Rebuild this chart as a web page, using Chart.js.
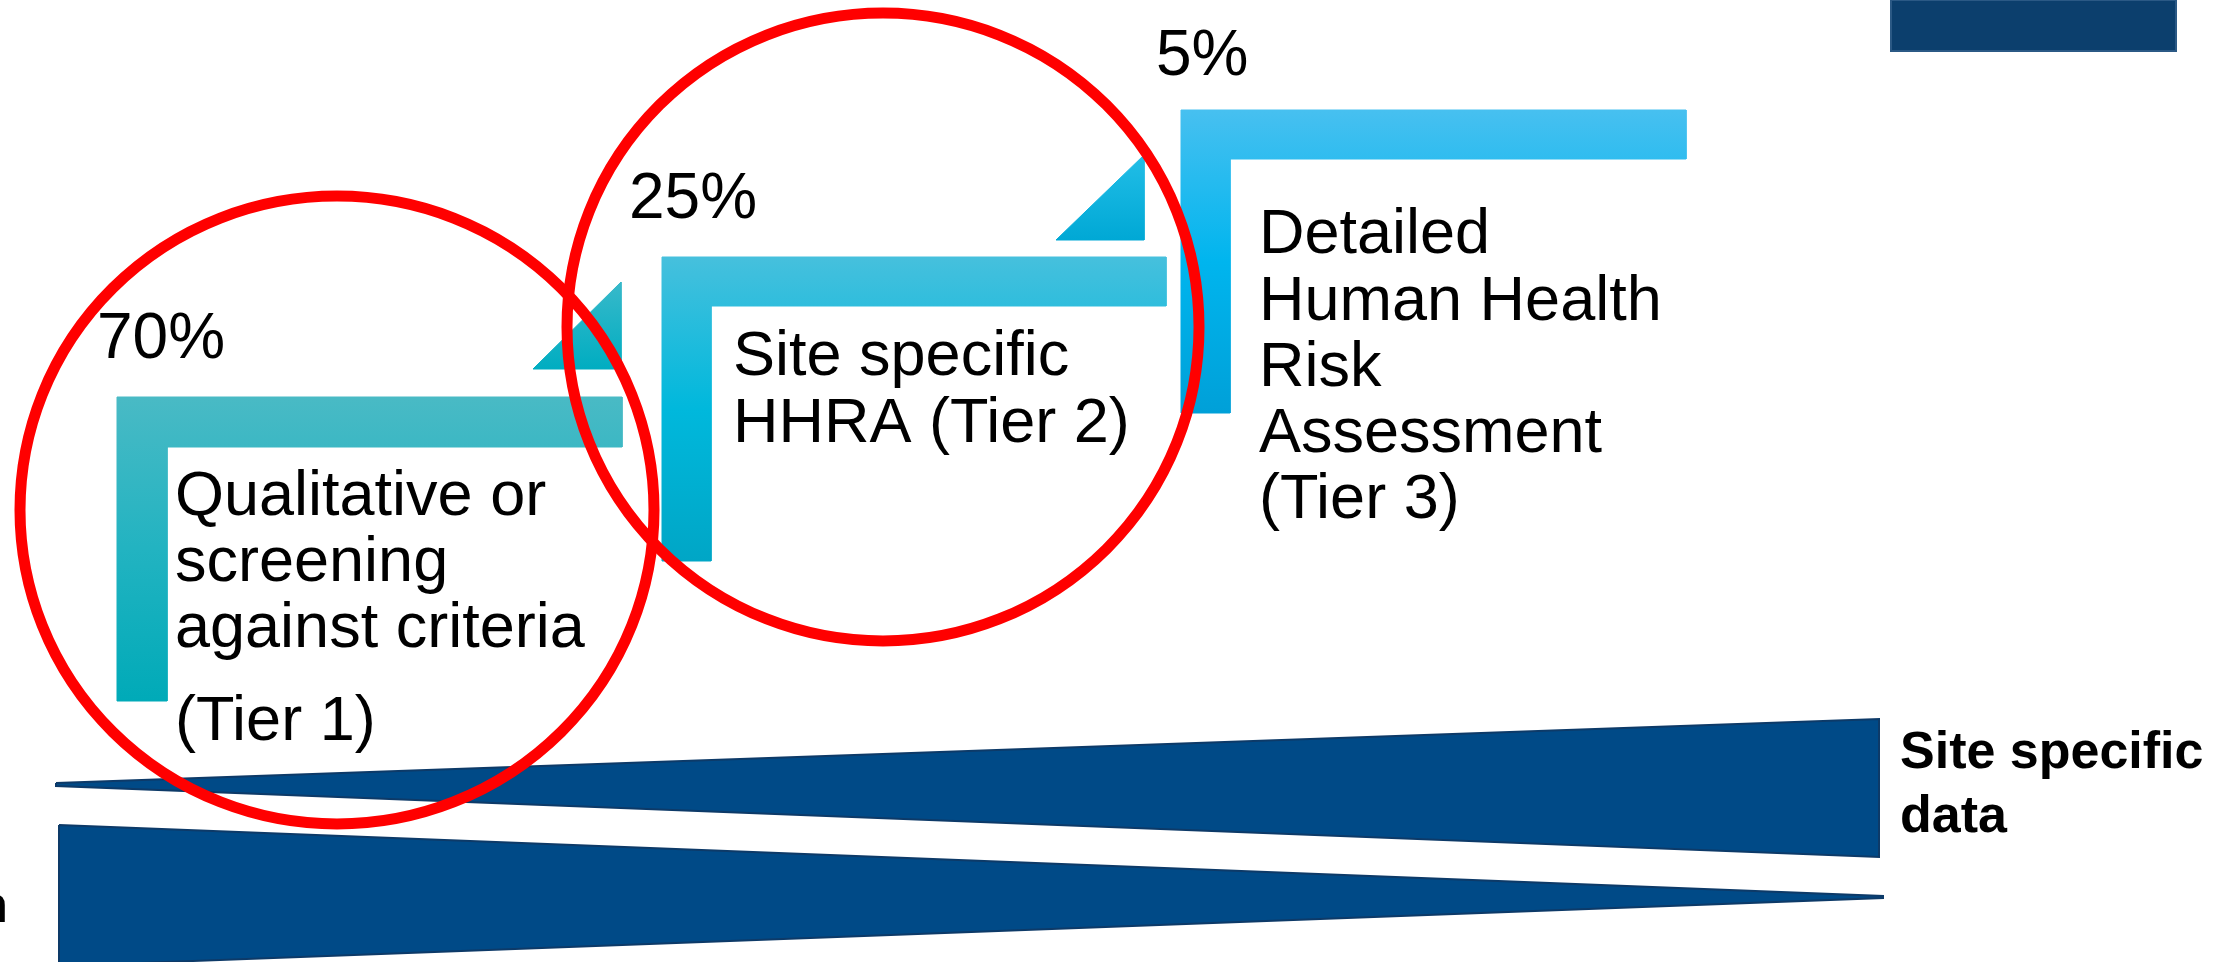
<!DOCTYPE html>
<html>
<head>
<meta charset="utf-8">
<script src="https://cdn.jsdelivr.net/npm/chart.js@4.4.1/dist/chart.umd.min.js"></script>
<style>
  html, body { margin: 0; padding: 0; background: #fff; }
  #wrap { width: 2217px; height: 962px; position: relative; }
</style>
</head>
<body>
<div id="wrap"><canvas id="tiers"></canvas></div>
<script>
// share of assessments that stop at each tier
const tierShare = [70, 25, 5];
const tierText = [
  ['Qualitative or', 'screening', 'against criteria', '(Tier 1)'],
  ['Site specific', 'HHRA (Tier 2)'],
  ['Detailed', 'Human Health', 'Risk', 'Assessment', '(Tier 3)']
];
const rightText = ['Site specific', 'data'];
const leftText = ['n'];

// layout (picture pixels, y down)
const W = 2217, H = 962;
const steps = [
  { l: 117, t: 397, r: 622, hb: 447, i: 167, b: 701, stops: ['#49bac5', '#22b3c1', '#00aab8'] },
  { l: 662, t: 257, r: 1166, hb: 306, i: 711, b: 561, stops: ['#46c0dd', '#00b8dc', '#00a6c6'] },
  { l: 1181, t: 110, r: 1686, hb: 159, i: 1230, b: 413, stops: ['#47c0f0', '#00b5ee', '#00a0d8'] }
];
const ramps = [
  { x0: 533, x1: 621, top: 282, bottom: 369, stops: ['#38b9ca', '#00adc1'] },
  { x0: 1056, x1: 1144, top: 155, bottom: 240, stops: ['#22bee7', '#00a8d5'] }
];
const wedges = [
  [[56, 783], [1879, 719], [1879, 857], [56, 786], [56, 783]],
  [[59, 825], [1883, 896], [1883, 898], [59, 966], [59, 825]]
];
const corner = [[1891, 0], [2176, 0], [2176, 51], [1891, 51], [1891, 0]];
const shareAt = [[97, 358], [629, 218], [1156, 75]];
const textAt = [
  { x: 175, base: [515, 581, 647, 740] },
  { x: 733, base: [375, 442] },
  { x: 1259, base: [253, 320, 386, 452, 518] }
];
const rings = [
  { cx: 337, cy: 510, rx: 317, ry: 314 },
  { cx: 883, cy: 327, rx: 316, ry: 314 }
];
const FONT = '"Liberation Sans", Arial, Helvetica, sans-serif';

function pts(list) { return list.map(([x, y]) => ({ x, y })); }

function vGrad(top, bottom, colors) {
  return (c) => {
    const chart = c.chart;
    if (!chart.chartArea) return colors[0];
    const ys = chart.scales.y;
    const g = chart.ctx.createLinearGradient(0, ys.getPixelForValue(top), 0, ys.getPixelForValue(bottom));
    colors.forEach((col, k) => g.addColorStop(k / (colors.length - 1), col));
    return g;
  };
}

function shape(data, fillColor, edge, width) {
  return {
    data: data, fill: 'shape', backgroundColor: fillColor,
    borderColor: edge, borderWidth: width, pointRadius: 0, tension: 0
  };
}

const datasets = [];
corner.length && datasets.push(shape(pts(corner), '#0c3f6d', '#2b5985', 2));
steps.forEach(s => {
  const g = vGrad(s.t, s.b, s.stops);
  datasets.push(shape(pts([[s.l, s.t], [s.r, s.t], [s.r, s.hb], [s.i, s.hb], [s.i, s.b], [s.l, s.b], [s.l, s.t]]), g, g, 1));
});
ramps.forEach(r => {
  const g = vGrad(r.top, r.bottom, r.stops);
  datasets.push(shape(pts([[r.x0, r.bottom], [r.x1, r.top], [r.x1, r.bottom], [r.x0, r.bottom]]), g, g, 1));
});
wedges.forEach(w => datasets.push(shape(pts(w), '#004a87', '#0d3a68', 2)));

const overlay = {
  id: 'overlay',
  afterDatasetsDraw(chart) {
    const { ctx, scales: { x, y } } = chart;
    const px = v => x.getPixelForValue(v), py = v => y.getPixelForValue(v);
    ctx.save();
    ctx.fillStyle = '#000';
    ctx.textBaseline = 'alphabetic';
    ctx.textAlign = 'left';
    ctx.font = '64px ' + FONT;
    tierShare.forEach((v, k) => ctx.fillText(v + '%', px(shareAt[k][0]), py(shareAt[k][1])));
    ctx.font = '63px ' + FONT;
    tierText.forEach((lines, k) => lines.forEach((s, j) => ctx.fillText(s, px(textAt[k].x), py(textAt[k].base[j]))));
    ctx.font = 'bold 52px ' + FONT;
    rightText.forEach((s, j) => ctx.fillText(s, px(1900), py(768 + j * 64)));
    ctx.textAlign = 'right';
    leftText.forEach(s => ctx.fillText(s, px(8), py(922)));

    ctx.strokeStyle = '#ff0000';
    ctx.lineWidth = 11;
    rings.forEach(r => {
      ctx.beginPath();
      ctx.ellipse(px(r.cx), py(r.cy), px(r.cx + r.rx) - px(r.cx), Math.abs(py(r.cy + r.ry) - py(r.cy)), 0, 0, Math.PI * 2);
      ctx.stroke();
    });
    ctx.restore();
  }
};

new Chart(document.getElementById('tiers'), {
  type: 'line',
  data: { datasets: datasets },
  options: {
    responsive: true,
    maintainAspectRatio: false,
    animation: false,
    events: [],
    layout: { padding: 0 },
    scales: {
      x: { type: 'linear', min: 0, max: W, display: false },
      y: { type: 'linear', min: 0, max: H, reverse: true, display: false }
    },
    plugins: { legend: { display: false }, tooltip: { enabled: false } }
  },
  plugins: [overlay]
});
</script>
</body>
</html>
